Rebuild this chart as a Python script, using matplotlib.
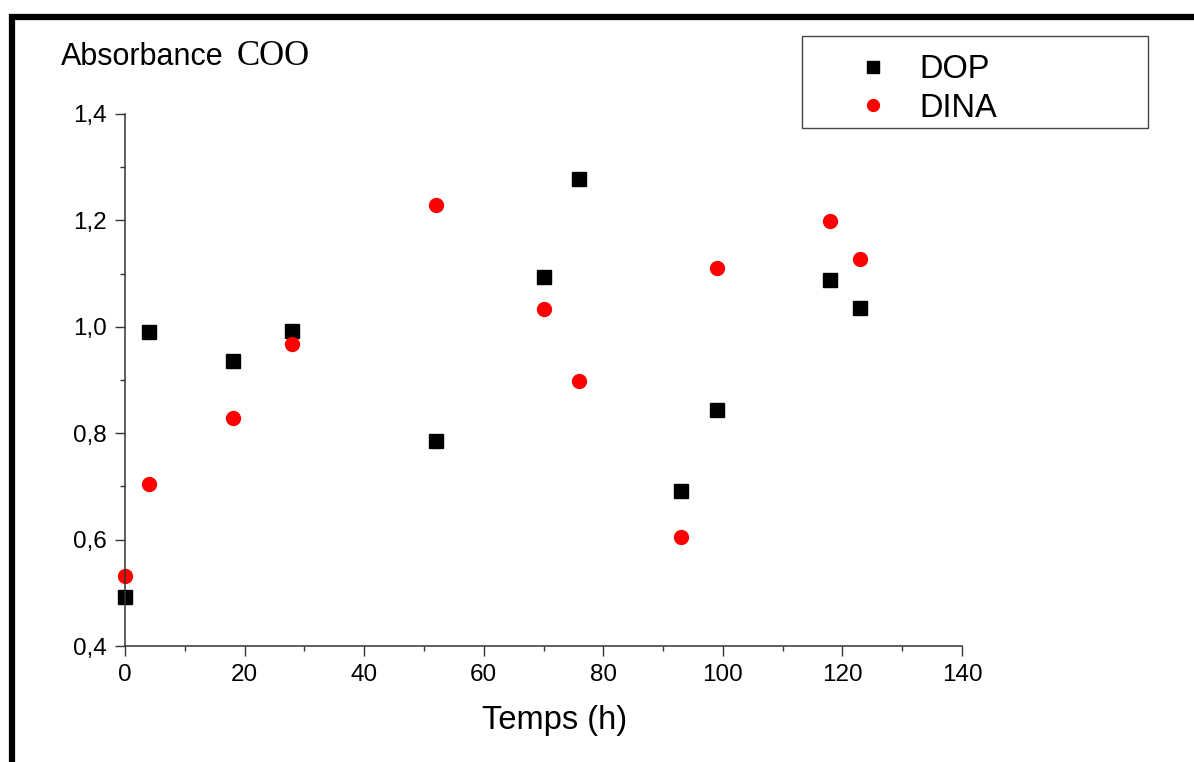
import numpy as np
import matplotlib.pyplot as plt
from matplotlib.lines import Line2D
from matplotlib.patches import Rectangle
from matplotlib.ticker import MultipleLocator, FuncFormatter

# temps (h)
temps = [0, 4, 18, 28, 52, 70, 76, 93, 99, 118, 123]
dop = [0.492, 0.990, 0.936, 0.992, 0.785, 1.094, 1.278, 0.691, 0.844, 1.088, 1.035]
dina = [0.532, 0.705, 0.829, 0.968, 1.229, 1.033, 0.898, 0.605, 1.111, 1.199, 1.127]

W, H = 1194, 762
plt.rcParams['font.family'] = ['Liberation Sans', 'DejaVu Sans']

fig = plt.figure(figsize=(W / 100, H / 100), dpi=100)
ax = fig.add_axes([125 / W, 1 - 646 / H, (962 - 125) / W, (646 - 114) / H])

ax.plot(temps, dop, 's', color='black', markersize=10, label='DOP', clip_on=False)
ax.plot(temps, dina, 'o', color='red', markersize=10, label='DINA', clip_on=False)

ax.set_xlim(0, 140)
ax.set_ylim(0.4, 1.4)
ax.xaxis.set_major_locator(MultipleLocator(20))
ax.xaxis.set_minor_locator(MultipleLocator(10))
ax.yaxis.set_major_locator(MultipleLocator(0.2))
ax.yaxis.set_minor_locator(MultipleLocator(0.1))
ax.yaxis.set_major_formatter(FuncFormatter(lambda v, p: ('%.1f' % v).replace('.', ',')))

for s in ['top', 'right']:
    ax.spines[s].set_visible(False)
for s in ['left', 'bottom']:
    ax.spines[s].set_color('#333333')
    ax.spines[s].set_linewidth(1.1)
ax.tick_params(which='major', direction='out', length=7, width=1, color='#333333',
               labelsize=17.5, pad=6)
ax.tick_params(which='minor', direction='out', length=3.5, width=1, color='#333333')

# titres
fig.text(61 / W, 1 - 65 / H, 'Absorbance', fontsize=22, ha='left', va='baseline')
fig.text(237 / W, 1 - 65 / H, 'COO', fontsize=25, family='Liberation Serif',
         ha='left', va='baseline')
fig.text(555 / W, 1 - 720 / H, 'Temps (h)', fontsize=23.5, ha='center', va='center')

# légende
fig.add_artist(Rectangle((802 / W, 1 - 128 / H), 346 / W, 92 / H, transform=fig.transFigure,
                         fill=False, edgecolor='#444444', linewidth=1))
ax.legend(loc='upper left', bbox_to_anchor=(834 / W, 1 - 31.5 / H), bbox_transform=fig.transFigure,
          frameon=False, fontsize=23.5, handletextpad=0.92, labelspacing=0.23,
          handlelength=1.0, markerscale=0.85, borderpad=0.2)

# cadre
fig.add_artist(Line2D([12 / W, 12 / W], [0, 1 - 14 / H], color='black', linewidth=4.5,
                      transform=fig.transFigure, solid_capstyle='butt'))
fig.add_artist(Line2D([9 / W, 1], [1 - 16.5 / H, 1 - 16.5 / H], color='black', linewidth=4.5,
                      transform=fig.transFigure, solid_capstyle='butt'))

fig.savefig('out.png', dpi=100)
